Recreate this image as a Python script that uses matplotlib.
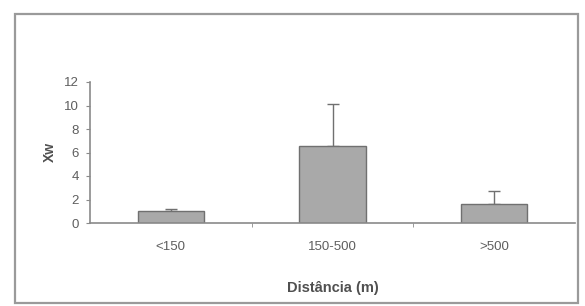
import numpy as np
import matplotlib
matplotlib.use('Agg')
import matplotlib.pyplot as plt
from matplotlib.patches import Rectangle

# ── Data ──────────────────────────────────────────────────────────────────────
categories = ['<150', '150-500', '>500']
xw_mean = [1.0, 6.55, 1.6]
xw_err = [0.2, 3.55, 1.1]

C_BAR = '#a9a9a9'
C_EDGE = '#707070'
C_AXIS = '#8a8a8a'
C_TEXT = '#5e5e5e'

plt.rcParams['font.family'] = ['Liberation Sans', 'DejaVu Sans']

fig = plt.figure(figsize=(5.85, 3.06), dpi=100)

# outer chart frame
fig.patches.append(Rectangle((15 / 585, 1 - 303 / 306), 563 / 585, 289 / 306,
                             transform=fig.transFigure, fill=False,
                             edgecolor='#9a9a9a', linewidth=1.6))

ax = fig.add_axes([90 / 585, 1 - 223 / 306, 485 / 585, 141 / 306])
x = np.arange(len(categories))
ax.bar(x, xw_mean, width=0.41, color=C_BAR, edgecolor=C_EDGE, linewidth=1.0,
       zorder=2)
ax.errorbar(x, xw_mean, yerr=[np.zeros(len(xw_err)), xw_err], fmt='none',
            ecolor=C_EDGE, elinewidth=1.0, capsize=4, capthick=1.0, zorder=1)

ax.set_xlim(-0.5, len(categories) - 0.5)
ax.set_ylim(0, 12)
ax.set_yticks(range(0, 13, 2))
ax.set_xticks(x)
ax.set_xticklabels(categories)
ax.set_xticks([0.5, 1.5], minor=True)

for s in ('top', 'right'):
    ax.spines[s].set_visible(False)
for s in ('left', 'bottom'):
    ax.spines[s].set_color(C_AXIS)
    ax.spines[s].set_linewidth(1.2)

ax.tick_params(axis='x', which='major', length=0, pad=13, labelsize=9.5,
               colors=C_TEXT)
ax.tick_params(axis='x', which='minor', length=3, color=C_AXIS)
ax.tick_params(axis='y', length=3, color=C_AXIS, pad=5, labelsize=9.5,
               colors=C_TEXT)

ax.set_ylabel('Xw', fontsize=10, fontweight='bold', color='#505050',
              labelpad=5)
ax.set_xlabel('Distância (m)', fontsize=10.5, fontweight='bold',
              color='#505050', labelpad=20)

fig.savefig('out.png', dpi=100)
